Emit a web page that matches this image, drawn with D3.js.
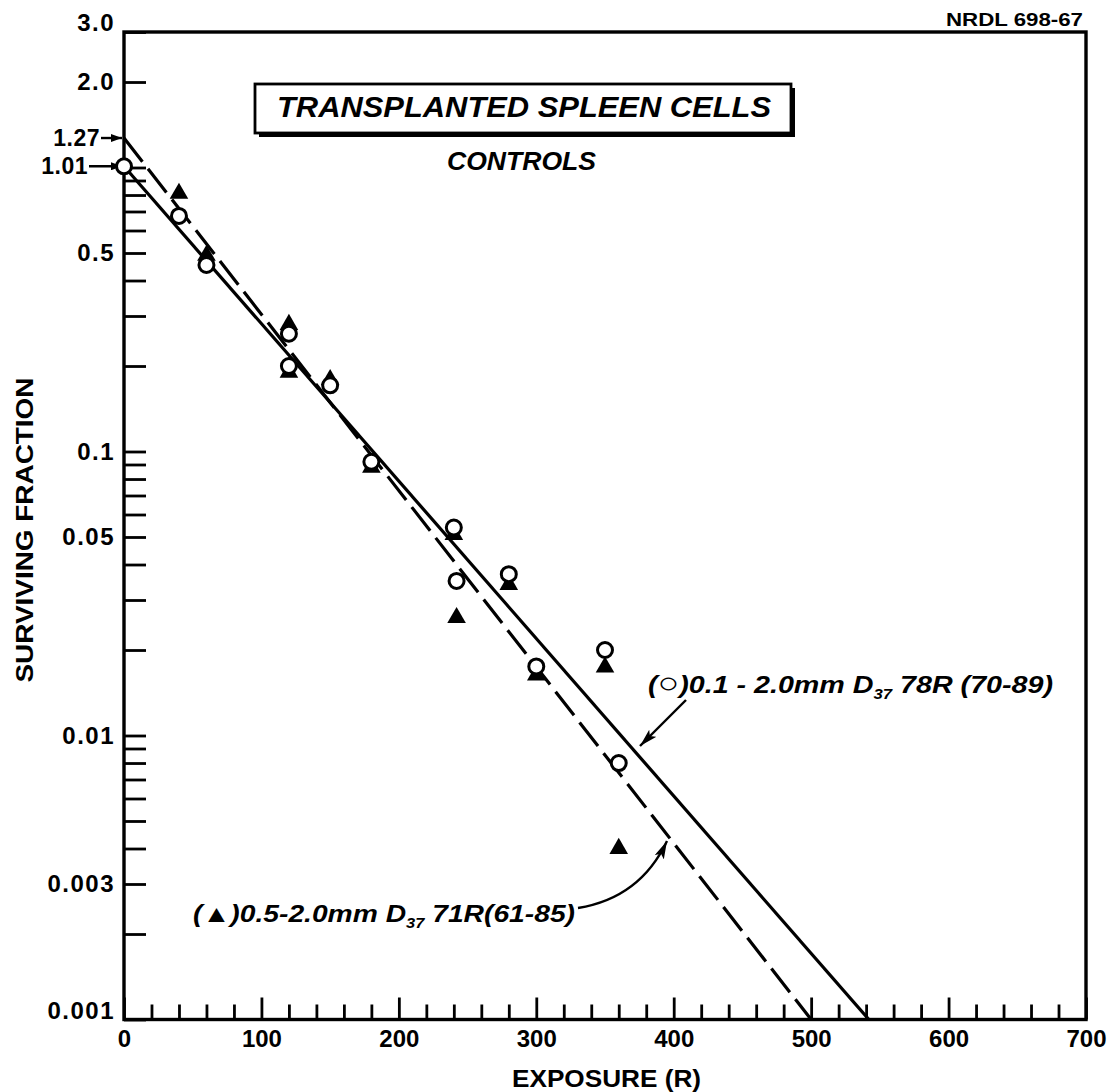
<!DOCTYPE html>
<html>
<head>
<meta charset="utf-8">
<script src="https://cdn.jsdelivr.net/npm/d3@7"></script>
<style>
  body { margin: 0; background: #fff; }
  text { font-family: "Liberation Sans", Arial, sans-serif; font-weight: bold; fill: #000; }
</style>
</head>
<body>
<svg id="chart" width="1116" height="1092"></svg>
<script>
// data
const circleExposure = [0, 40, 60, 120, 120, 150, 180, 240, 242, 280, 300, 350, 360];
const circleSurvival = [1.01, 0.675, 0.454, 0.26, 0.20, 0.171, 0.092, 0.054, 0.035, 0.037, 0.0175, 0.020, 0.008];
const triangleExposure = [40, 60, 120, 120, 150, 180, 240, 242, 280, 300, 350, 360];
const triangleSurvival = [0.81, 0.49, 0.28, 0.19, 0.179, 0.088, 0.051, 0.026, 0.034, 0.0163, 0.0174, 0.004];
// fitted lines, end points
const solidFit = [[0, 1.01], [542, 0.001]];
const dashedFit = [[0, 1.27], [500, 0.001]];

const xMajorTicks = [0, 100, 200, 300, 400, 500, 600, 700];
const xMinorTicks = [20, 40, 60, 80, 120, 140, 160, 180, 220, 240, 260, 280, 320, 340, 360, 380,
  420, 440, 460, 480, 520, 540, 560, 580, 620, 640, 660, 680];
const yLabelValues = [3, 2, 0.5, 0.1, 0.05, 0.01, 0.003, 0.001];
const yLabels = ['3.0', '2.0', '0.5', '0.1', '0.05', '0.01', '0.003', '0.001'];
const yMarked = [1.27, 1.01];

const svg = d3.select('#chart');
const x = d3.scaleLinear().domain([0, 700]).range([124, 1086]);
const y = d3.scaleLog().domain([0.001, 3]).range([1019.5, 32]);

// arrow heads
const defs = svg.append('defs');
defs.append('marker')
  .attr('id', 'head')
  .attr('markerUnits', 'userSpaceOnUse')
  .attr('markerWidth', 18).attr('markerHeight', 10)
  .attr('refX', 18).attr('refY', 5)
  .attr('orient', 'auto')
  .append('path').attr('d', 'M0,0 L18,5 L0,10 L4,5 z').attr('fill', '#000');
defs.append('marker')
  .attr('id', 'smallHead')
  .attr('markerUnits', 'userSpaceOnUse')
  .attr('markerWidth', 11).attr('markerHeight', 8)
  .attr('refX', 11).attr('refY', 4)
  .attr('orient', 'auto')
  .append('path').attr('d', 'M0,0 L11,4 L0,8 z').attr('fill', '#000');

// x axis: minor + major ticks pointing inward
svg.append('g')
  .attr('transform', `translate(0,${y.range()[0]})`)
  .call(d3.axisBottom(x).tickValues(xMinorTicks).tickSize(-15).tickSizeOuter(0).tickFormat(''));
const xMajor = svg.append('g')
  .attr('transform', `translate(0,${y.range()[0]})`)
  .call(d3.axisBottom(x).tickValues(xMajorTicks).tickSize(-22).tickSizeOuter(0).tickPadding(10));
xMajor.selectAll('text').attr('font-size', 24);

// y axis: log ticks 1..9 each decade, labels on a few
const yAxis = svg.append('g')
  .attr('transform', `translate(${x.range()[0]},0)`)
  .call(d3.axisLeft(y).tickValues(y.ticks()).tickSize(-22).tickSizeOuter(0).tickPadding(9)
    .tickFormat(d => {
      const i = yLabelValues.findIndex(v => Math.abs(v - d) < d * 1e-6);
      return i < 0 ? '' : yLabels[i];
    }));
yAxis.selectAll('text').attr('font-size', 24).attr('letter-spacing', 1.5)
  .attr('dy', d => (d === 3 || d === 0.001) ? '-0.05em' : '0.32em');

svg.selectAll('.domain').remove();
svg.selectAll('.tick line').attr('stroke', '#000').attr('stroke-width', 2.8);

// frame
svg.append('rect')
  .attr('x', x.range()[0]).attr('y', y.range()[1])
  .attr('width', x.range()[1] - x.range()[0])
  .attr('height', y.range()[0] - y.range()[1])
  .attr('fill', 'none').attr('stroke', '#000').attr('stroke-width', 3.4);

// 1.27 and 1.01 markers on the y axis
yMarked.forEach((v, i) => {
  const right = i === 0 ? 100 : 88;
  svg.append('text')
    .attr('x', right).attr('y', y(v)).attr('dy', '0.34em')
    .attr('text-anchor', 'end').attr('font-size', 23).attr('letter-spacing', 0.5)
    .text(v.toFixed(2));
  svg.append('line')
    .attr('x1', right + 1).attr('x2', x(0) - 2)
    .attr('y1', y(v)).attr('y2', y(v))
    .attr('stroke', '#000').attr('stroke-width', 2.4)
    .attr('marker-end', 'url(#smallHead)');
});

// fitted lines
const line = d3.line().x(d => x(d[0])).y(d => y(d[1]));
svg.append('path').attr('d', line(dashedFit))
  .attr('fill', 'none').attr('stroke', '#000').attr('stroke-width', 3.2)
  .attr('stroke-dasharray', '30 9');
svg.append('path').attr('d', line(solidFit))
  .attr('fill', 'none').attr('stroke', '#000').attr('stroke-width', 3.2);

// triangles first, circles on top
const tri = d3.symbol().type(d3.symbolTriangle).size(150);
svg.append('g').selectAll('path')
  .data(triangleExposure.map((e, i) => [e, triangleSurvival[i]]))
  .join('path')
  .attr('d', tri)
  .attr('transform', d => `translate(${x(d[0])},${y(d[1])})`)
  .attr('fill', '#000');
svg.append('g').selectAll('circle')
  .data(circleExposure.map((e, i) => [e, circleSurvival[i]]))
  .join('circle')
  .attr('cx', d => x(d[0])).attr('cy', d => y(d[1]))
  .attr('r', 7.5)
  .attr('fill', '#fff').attr('stroke', '#000').attr('stroke-width', 3);

// title box with shadow
svg.append('rect').attr('x', 259).attr('y', 88).attr('width', 536).attr('height', 49).attr('fill', '#000');
svg.append('rect').attr('x', 255).attr('y', 84).attr('width', 536).attr('height', 49)
  .attr('fill', '#fff').attr('stroke', '#000').attr('stroke-width', 2.8);
svg.append('text').attr('x', 277).attr('y', 117)
  .attr('font-size', 29).attr('font-style', 'italic')
  .attr('textLength', 494).attr('lengthAdjust', 'spacingAndGlyphs')
  .text('TRANSPLANTED SPLEEN CELLS');
svg.append('text').attr('x', 447).attr('y', 170)
  .attr('font-size', 25).attr('font-style', 'italic')
  .attr('textLength', 149).attr('lengthAdjust', 'spacingAndGlyphs')
  .text('CONTROLS');

svg.append('text').attr('x', 946).attr('y', 26)
  .attr('font-size', 18)
  .attr('textLength', 137).attr('lengthAdjust', 'spacingAndGlyphs')
  .text('NRDL 698-67');

// axis titles
svg.append('text')
  .attr('transform', 'translate(33,530) rotate(-90)')
  .attr('text-anchor', 'middle').attr('font-size', 23)
  .attr('textLength', 305).attr('lengthAdjust', 'spacingAndGlyphs')
  .text('SURVIVING FRACTION');
svg.append('text')
  .attr('x', 512).attr('y', 1087)
  .attr('font-size', 23)
  .attr('textLength', 189).attr('lengthAdjust', 'spacingAndGlyphs')
  .text('EXPOSURE (R)');

// series callouts
function callout(xPos, yPos, len, parts) {
  const t = svg.append('text').attr('x', xPos).attr('y', yPos)
    .attr('font-size', 24).attr('font-style', 'italic')
    .attr('textLength', len).attr('lengthAdjust', 'spacingAndGlyphs');
  parts.forEach(p => {
    const s = t.append('tspan').text(p.t);
    if (p.big) s.attr('font-size', 30).attr('font-weight', 'bold');
    if (p.sub) s.attr('font-size', 14).attr('dy', 6);
    if (p.up) s.attr('dy', -6);
  });
}
callout(648, 693, 405, [
  { t: '(' }, { t: '○', big: true }, { t: ')0.1 - 2.0mm   D' }, { t: '37', sub: true }, { t: ' 78R (70-89)', up: true }
]);
callout(193, 922, 382, [
  { t: '(▲)0.5-2.0mm D' }, { t: '37', sub: true }, { t: ' 71R(61-85)', up: true }
]);

svg.append('line')
  .attr('x1', 686).attr('y1', 700).attr('x2', 640).attr('y2', 746)
  .attr('stroke', '#000').attr('stroke-width', 2.4)
  .attr('marker-end', 'url(#head)');
svg.append('path')
  .attr('d', 'M578,908 Q640,898 667,841')
  .attr('fill', 'none').attr('stroke', '#000').attr('stroke-width', 2.4)
  .attr('marker-end', 'url(#head)');
</script>
</body>
</html>
